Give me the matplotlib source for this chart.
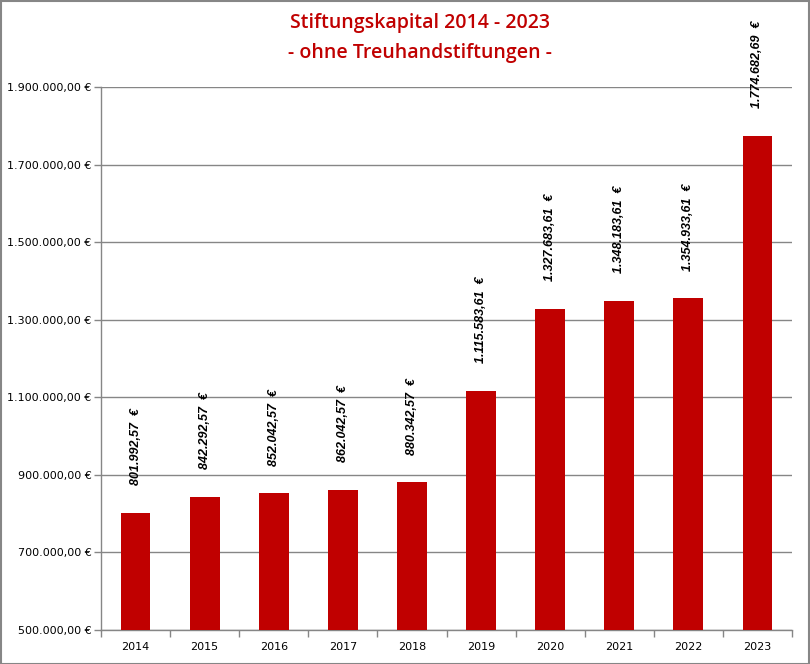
import numpy as np
import matplotlib
matplotlib.use("Agg")
import matplotlib.pyplot as plt
from matplotlib.patches import Rectangle
from matplotlib.ticker import FuncFormatter

years = ["2014", "2015", "2016", "2017", "2018", "2019", "2020", "2021", "2022", "2023"]
kapital = [801992.57, 842292.57, 852042.57, 862042.57, 880342.57,
           1115583.61, 1327683.61, 1348183.61, 1354933.61, 1774682.69]

red = "#C00000"
grid_col = "#868686"


def euro(v, decimals=2):
    s = f"{v:,.{decimals}f}"
    return s.replace(",", "X").replace(".", ",").replace("X", ".")


fig = plt.figure(figsize=(8.1, 6.64), dpi=100)
ax = fig.add_axes([101 / 810, 34 / 664, 691 / 810, 543 / 664])

x = np.arange(len(years))
ax.bar(x, kapital, width=0.43, color=red, zorder=3)

ax.set_xlim(-0.5, len(years) - 0.5)
ax.set_ylim(500000, 1900000)
ax.set_yticks(np.arange(500000, 1900001, 200000))
ax.yaxis.set_major_formatter(FuncFormatter(lambda v, p: euro(v) + " €"))
ax.yaxis.grid(True, color=grid_col, linewidth=1, zorder=0)

ax.set_xticks(x)
ax.set_xticklabels(years)
ax.set_xticks(np.arange(-0.5, len(years)), minor=True)
ax.tick_params(axis="x", which="major", length=0, pad=9, labelsize=8, colors="black")
ax.tick_params(axis="x", which="minor", length=5, color=grid_col, width=1)
ax.tick_params(axis="y", length=5, color=grid_col, width=1, labelsize=8, pad=2)

for side in ["top", "right"]:
    ax.spines[side].set_visible(False)
for side in ["left", "bottom"]:
    ax.spines[side].set_color(grid_col)
    ax.spines[side].set_linewidth(1)

# value labels, rotated, above each bar
for xi, v in zip(x, kapital):
    ax.annotate(euro(v) + "  €", (xi, v), xytext=(0, 20), textcoords="offset points",
                rotation=90, ha="center", va="bottom", fontsize=9,
                family="Liberation Sans", weight="bold",
                style="italic", annotation_clip=False, clip_on=False, zorder=4)

fig.text(0.518, 0.965, "Stiftungskapital 2014 - 2023", ha="center", va="center",
         color=red, fontsize=14, family="Open Sans", weight="semibold")
fig.text(0.518, 0.92, "- ohne Treuhandstiftungen -", ha="center", va="center",
         color=red, fontsize=14, family="Open Sans", weight="semibold")

fig.patches.append(Rectangle((0.5 / 810, 0.5 / 664), 1 - 1.5 / 810, 1 - 1.5 / 664,
                             transform=fig.transFigure, fill=False,
                             edgecolor=grid_col, linewidth=1.5))

fig.savefig("out.png", dpi=100)
